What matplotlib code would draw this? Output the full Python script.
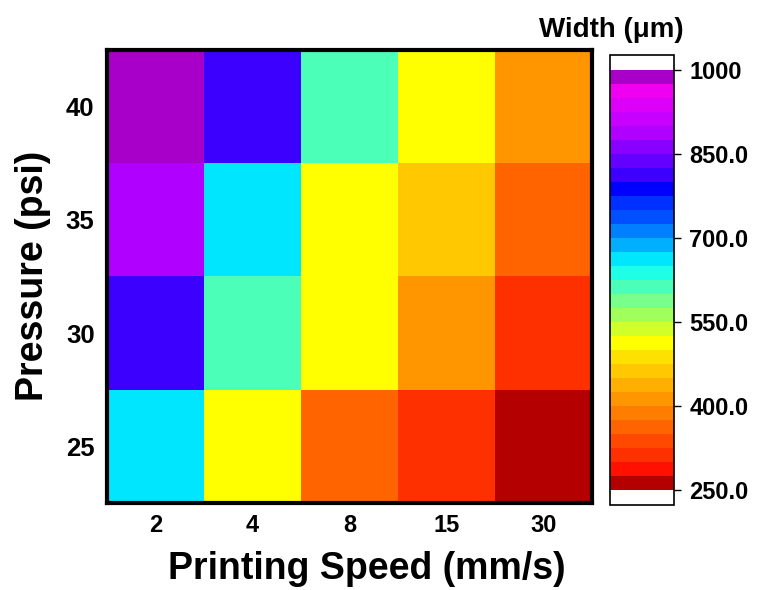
import numpy as np
import matplotlib
matplotlib.use("Agg")
import matplotlib.pyplot as plt
from matplotlib.colors import ListedColormap, BoundaryNorm

plt.rcParams['font.family'] = ['Liberation Sans', 'DejaVu Sans']
plt.rcParams['font.weight'] = 'bold'

speeds = ['2', '4', '8', '15', '30']
pressures = ['40', '35', '30', '25']

# width (um), rows top to bottom = 40, 35, 30, 25 psi
width_40 = [990, 810, 610, 510, 410]
width_35 = [885, 660, 510, 460, 360]
width_30 = [810, 610, 510, 410, 310]
width_25 = [660, 510, 360, 310, 260]

levels = np.arange(250, 1001, 25)
band_colors = ['#B40000', '#FF1000', '#FF3000', '#FF4800', '#FF6400', '#FF7D00',
               '#FF9600', '#FFAF00', '#FFC800', '#FFE100', '#FFFF00', '#D2FF28',
               '#A0FF5A', '#78FF8C', '#4CFFB8', '#1EFFE6', '#00E6FF', '#00B0FF',
               '#0080FF', '#0050FF', '#0030FF', '#0000FF', '#3C00FF', '#6400FF',
               '#8800FF', '#B000FF', '#C800FF', '#DC00F8', '#F000F0', '#A800C8']
cbar_ticks = [250, 400, 550, 700, 850, 1000]
cbar_labels = ['250.0', '400.0', '550.0', '700.0', '850.0', '1000']

data = np.array([width_40, width_35, width_30, width_25])

cmap = ListedColormap(band_colors)
cmap.set_under('white')
cmap.set_over('white')
norm = BoundaryNorm(levels, cmap.N)

fig = plt.figure(figsize=(7.61, 5.90), dpi=100)
ax = fig.add_axes([107/761, 1 - 503/590, 485/761, 453/590])
cax = fig.add_axes([610/761, 1 - 505/590, 64/761, 450/590])

im = ax.imshow(data, cmap=cmap, norm=norm, aspect='auto', interpolation='nearest')
ax.set_xticks(range(len(speeds)))
ax.set_xticklabels(speeds)
ax.set_yticks(range(len(pressures)))
ax.set_yticklabels(pressures)
ax.tick_params(axis='x', labelsize=17, length=0, pad=8)
ax.tick_params(axis='y', labelsize=18.5, length=0, pad=9)
for s in ax.spines.values():
    s.set_linewidth(3)

# axis titles placed like the reference
fig.text(367/761, 1 - 569/590, 'Printing Speed (mm/s)', fontsize=27, fontweight='bold',
         ha='center', va='center')
fig.text(33/761, 1 - 276/590, 'Pressure (psi)', fontsize=27, fontweight='bold',
         ha='center', va='center', rotation=90)

cb = fig.colorbar(im, cax=cax, extend='both', extendrect=True, extendfrac=15/420,
                  ticks=cbar_ticks, drawedges=False)
cb.ax.minorticks_off()
cb.ax.set_yticklabels(cbar_labels)
cb.ax.tick_params(labelsize=17, length=5, width=1, pad=6)
cb.outline.set_linewidth(1.2)

fig.text(611/761, 1 - 30/590, 'Width (μm)', fontsize=20, fontweight='bold',
         ha='center', va='center')

fig.savefig('out.png', dpi=100)
